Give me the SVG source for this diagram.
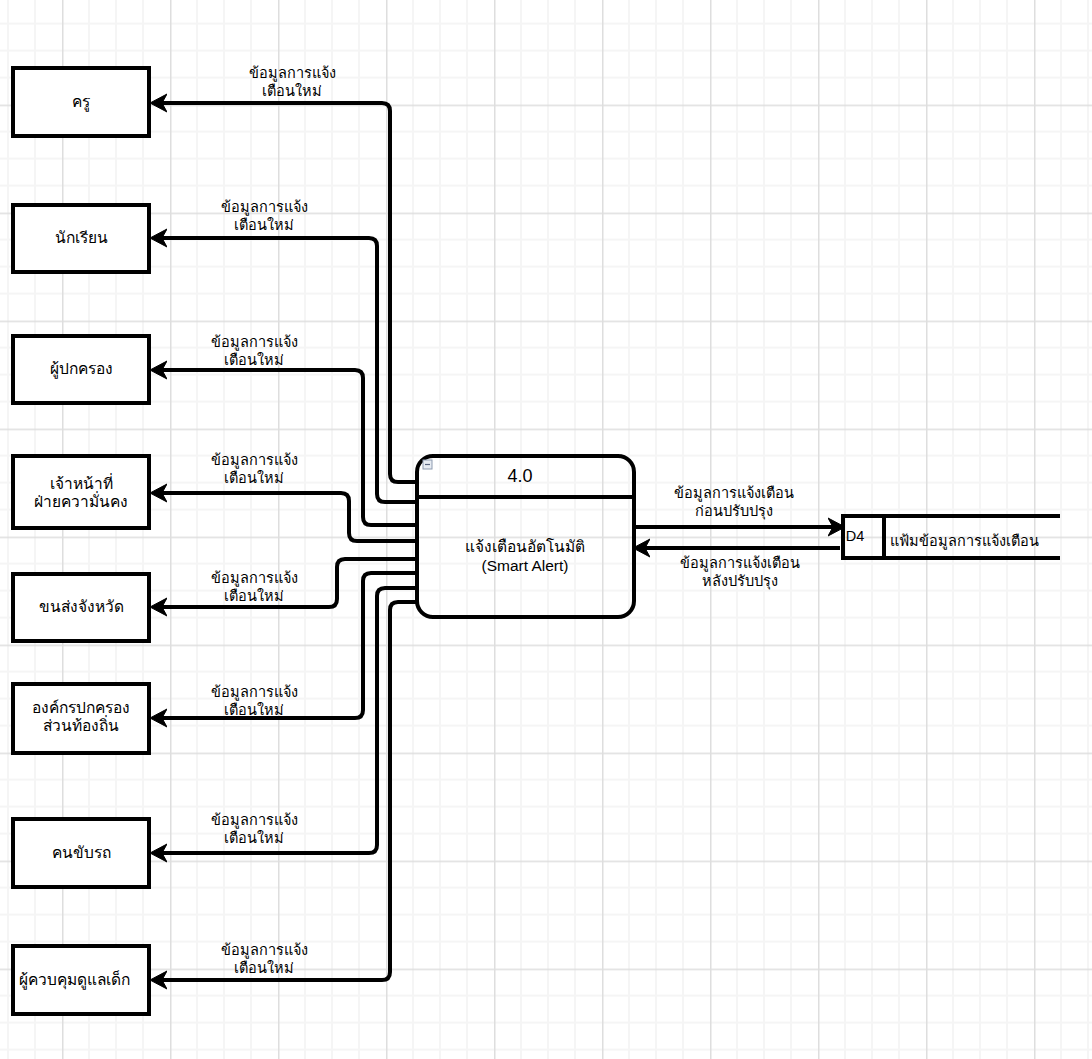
<svg xmlns="http://www.w3.org/2000/svg" width="1092" height="1059" viewBox="0 0 1092 1059">
  <style>
    .ent { fill: #ffffff; stroke: #000000; stroke-width: 4; }
    .proc { fill: none; stroke: #000000; stroke-width: 4; }
    .store { fill: none; stroke: #000000; stroke-width: 4; stroke-linecap: butt; }
    .flow { fill: none; stroke: #000000; stroke-width: 4; stroke-linejoin: round; }
    .txt { font-family: "Liberation Sans", "Noto Sans", "DejaVu Sans", sans-serif; fill: #000000; text-anchor: middle; }
    .ename { font-size: 15.5px; }
    .lbl { font-size: 14.5px; }
    .ptitle { font-size: 18px; }
    .pbody { font-size: 15.5px; }
  </style>
  <defs>
    <!-- drawing grid: minor every 27px, major every 108px -->
    <pattern id="grid" patternUnits="userSpaceOnUse" x="62" y="104.6" width="108" height="108">
      <rect x="0" y="0" width="108" height="108" fill="#ffffff"/>
      <rect x="26" y="0" width="2" height="108" fill="#f5f5f5"/>
      <rect x="53" y="0" width="2" height="108" fill="#f5f5f5"/>
      <rect x="80" y="0" width="2" height="108" fill="#f5f5f5"/>
      <rect x="0" y="26" width="108" height="2" fill="#f5f5f5"/>
      <rect x="0" y="53" width="108" height="2" fill="#f5f5f5"/>
      <rect x="0" y="80" width="108" height="2" fill="#f5f5f5"/>
      <rect x="0" y="0" width="1.5" height="108" fill="#dedede"/>
      <rect x="0" y="0" width="108" height="1.5" fill="#dedede"/>
    </pattern>
    <marker id="arrow" markerUnits="userSpaceOnUse" viewBox="0 0 20 20" markerWidth="20" markerHeight="20" refX="5" refY="10" orient="auto">
      <path d="M0,1 L17,10 L0,19 L5,10 Z" fill="#000000" stroke="#000000" stroke-width="1" stroke-linejoin="miter"/>
    </marker>
  </defs>

  <rect x="0" y="0" width="1092" height="1059" fill="url(#grid)"/>

  <!-- data flows -->
  <g id="connectors">
    <path class="flow" marker-end="url(#arrow)" d="M417,482 H398 Q390,482 390,474 V111 Q390,103 382,103 H162"/>
    <path class="flow" marker-end="url(#arrow)" d="M417,502 H385 Q377,502 377,494 V246 Q377,238 369,238 H162"/>
    <path class="flow" marker-end="url(#arrow)" d="M417,525 H371 Q363,525 363,517 V378 Q363,370 355,370 H162"/>
    <path class="flow" marker-end="url(#arrow)" d="M417,541 H357 Q349,541 349,533 V501 Q349,493 341,493 H162"/>
    <path class="flow" marker-end="url(#arrow)" d="M417,559 H345 Q337,559 337,567 V599 Q337,607 329,607 H162"/>
    <path class="flow" marker-end="url(#arrow)" d="M417,573 H371 Q363,573 363,581 V710 Q363,718 355,718 H162"/>
    <path class="flow" marker-end="url(#arrow)" d="M417,588 H385 Q377,588 377,596 V845 Q377,853 369,853 H162"/>
    <path class="flow" marker-end="url(#arrow)" d="M417,602 H398 Q390,602 390,610 V972 Q390,980 382,980 H162"/>
    <path class="flow" marker-end="url(#arrow)" d="M634,527 H833"/>
    <path class="flow" marker-end="url(#arrow)" d="M840,548 H645"/>

    <g class="txt lbl">
      <text x="292" y="78">ข้อมูลการแจ้ง</text>
      <text x="292" y="96">เตือนใหม่</text>
      <text x="264" y="212">ข้อมูลการแจ้ง</text>
      <text x="264" y="230">เตือนใหม่</text>
      <text x="254" y="347">ข้อมูลการแจ้ง</text>
      <text x="254" y="365">เตือนใหม่</text>
      <text x="254" y="465">ข้อมูลการแจ้ง</text>
      <text x="254" y="483">เตือนใหม่</text>
      <text x="254" y="583">ข้อมูลการแจ้ง</text>
      <text x="254" y="601">เตือนใหม่</text>
      <text x="254" y="697">ข้อมูลการแจ้ง</text>
      <text x="254" y="715">เตือนใหม่</text>
      <text x="254" y="825">ข้อมูลการแจ้ง</text>
      <text x="254" y="843">เตือนใหม่</text>
      <text x="264" y="955">ข้อมูลการแจ้ง</text>
      <text x="264" y="973">เตือนใหม่</text>
      <text x="734" y="498">ข้อมูลการแจ้งเตือน</text>
      <text x="734" y="516">ก่อนปรับปรุง</text>
      <text x="740" y="568">ข้อมูลการแจ้งเตือน</text>
      <text x="740" y="586">หลังปรับปรุง</text>
    </g>
  </g>

  <!-- external entities -->
  <g id="teacher">
    <rect class="ent" x="13" y="68" width="136" height="68"/>
    <text class="txt ename" x="81" y="107">ครู</text>
  </g>
  <g id="student">
    <rect class="ent" x="13" y="205" width="136" height="67"/>
    <text class="txt ename" x="81" y="243">นักเรียน</text>
  </g>
  <g id="parent">
    <rect class="ent" x="13" y="336" width="136" height="67"/>
    <text class="txt ename" x="81" y="374">ผู้ปกครอง</text>
  </g>
  <g id="security">
    <rect class="ent" x="13" y="456" width="136" height="72"/>
    <text class="txt ename" x="81" y="489">เจ้าหน้าที่</text>
    <text class="txt ename" x="81" y="507">ฝ่ายความั่นคง</text>
  </g>
  <g id="transport">
    <rect class="ent" x="13" y="574" width="136" height="67"/>
    <text class="txt ename" x="81" y="612">ขนส่งจังหวัด</text>
  </g>
  <g id="local-gov">
    <rect class="ent" x="13" y="684" width="136" height="69"/>
    <text class="txt ename" x="81" y="713">องค์กรปกครอง</text>
    <text class="txt ename" x="81" y="731">ส่วนท้องถิ่น</text>
  </g>
  <g id="driver">
    <rect class="ent" x="13" y="819" width="136" height="68"/>
    <text class="txt ename" x="81" y="858">คนขับรถ</text>
  </g>
  <g id="caretaker">
    <rect class="ent" x="13" y="946" width="136" height="68"/>
    <text class="txt ename" x="74" y="985">ผู้ควบคุมดูแลเด็ก</text>
  </g>

  <!-- process 4.0 -->
  <g id="process-4">
    <rect class="proc" x="417" y="456" width="217" height="161" rx="16" ry="16"/>
    <line class="proc" x1="417" y1="497" x2="634" y2="497"/>
    <rect x="423" y="460" width="9" height="9" fill="#e6ebf2" stroke="#8e9bb0" stroke-width="1"/>
    <line x1="425" y1="464.5" x2="430" y2="464.5" stroke="#5a6680" stroke-width="1.2"/>
    <text class="txt ptitle" x="520" y="482">4.0</text>
    <text class="txt pbody" x="525" y="552">แจ้งเตือนอัตโนมัติ</text>
    <text class="txt pbody" x="525" y="571">(Smart Alert)</text>
  </g>

  <!-- data store D4 -->
  <g id="store-d4">
    <path class="store" d="M1060,516 H843 V558 H1060"/>
    <line class="store" x1="884" y1="516" x2="884" y2="558"/>
    <text class="txt" x="855" y="541" style="font-size:14.5px">D4</text>
    <text class="txt" x="964" y="546" style="font-size:14.5px">แฟ้มข้อมูลการแจ้งเตือน</text>
  </g>
</svg>
